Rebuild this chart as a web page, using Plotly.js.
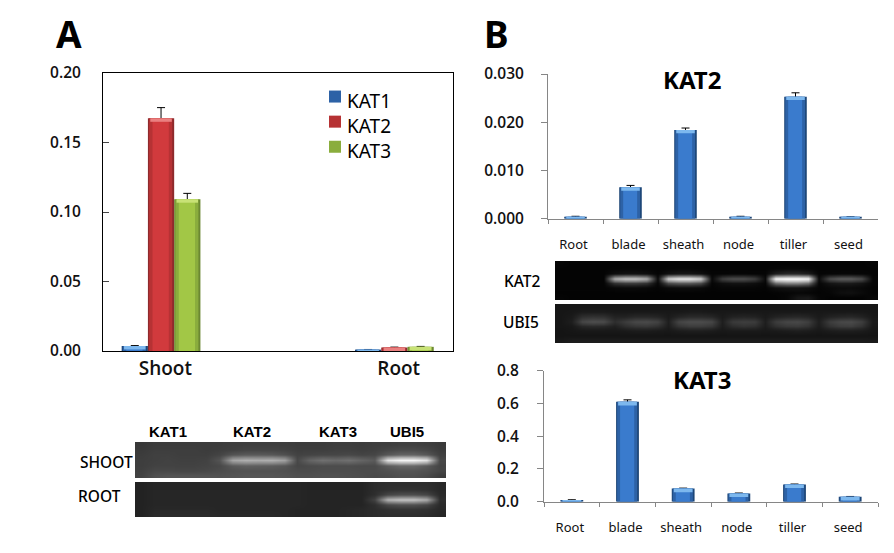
<!DOCTYPE html>
<html>
<head>
<meta charset="utf-8">
<script src="https://cdn.plot.ly/plotly-3.0.1.min.js"></script>
<style>html,body{margin:0;padding:0;background:#fff}#c{width:894px;height:553px}</style>
</head>
<body>
<div id="c"></div>
<script>
// ---------- data ----------
const tissuesA = ['Shoot', 'Root'];
const kat1A = [0.0036, 0.001];
const kat2A = [0.1674, 0.0025];
const kat3A = [0.1092, 0.003];
const kat1AErr = [0.0003, 0.0001];
const kat2AErr = [0.0077, 0.0003];
const kat3AErr = [0.0042, 0.0003];

const organs = ['Root', 'blade', 'sheath', 'node', 'tiller', 'seed'];
const kat2B = [0.0004, 0.0065, 0.0184, 0.0004, 0.0253, 0.0004];
const kat2BErr = [0.0001, 0.0004, 0.0004, 0.0001, 0.0008, 0];
const kat3B = [0.01, 0.61, 0.08, 0.05, 0.105, 0.03];
const kat3BErr = [0.002, 0.012, 0.003, 0.003, 0.003, 0.002];

// gel brightness (rows from top, 0-255)
const gelShoot = [
 [56,60,60,60,60,60,60,62,62,62,62,62,60,60,60,62,62,60,62,62,64,64,62,58],
 [58,62,62,62,62,60,62,64,68,68,68,66,62,62,62,64,64,62,64,70,74,74,70,60],
 [60,64,64,62,62,62,68,84,90,90,88,80,66,68,70,70,72,68,70,88,100,100,88,64],
 [62,64,66,64,64,66,84,165,175,172,175,160,72,100,112,106,112,100,90,225,245,245,225,72],
 [62,66,66,66,66,68,72,90,96,94,92,86,70,74,76,76,76,74,74,92,104,104,90,68],
 [64,72,72,70,70,72,76,80,82,82,82,80,76,76,78,78,78,76,76,80,84,84,80,70],
 [66,80,84,84,84,84,82,84,86,86,86,84,80,80,82,82,80,78,74,76,80,80,74,60]
];
const gelRoot = [
 [34,38,38,38,38,38,38,38,38,38,38,38,38,36,36,36,36,36,44,46,46,46,46,40],
 [34,38,38,38,38,38,38,38,38,38,38,38,38,36,36,36,36,36,44,48,50,50,48,40],
 [34,38,38,38,38,38,38,38,38,38,38,38,38,36,36,36,36,36,46,70,78,78,70,42],
 [34,38,38,38,38,38,38,38,38,38,38,38,38,36,36,36,36,36,66,180,195,195,170,46],
 [34,38,38,38,38,38,38,38,38,38,38,38,38,36,36,36,36,36,46,72,80,80,70,42],
 [34,40,40,40,40,40,38,38,38,38,38,38,36,36,36,36,38,40,44,48,50,50,48,40],
 [34,42,42,42,42,42,40,40,40,40,40,38,36,36,36,36,38,40,44,46,46,46,44,38]
];
const gelKat2 = [
 [6,4,4,4,4,4,4,4,4,4,4,4,4,4,4,4,4,4,4,4,4,4,4,4,4,4,4,4,4,6],
 [4,4,4,4,4,5,6,6,5,4,5,6,6,5,4,4,4,4,4,4,6,8,8,6,4,4,4,4,4,4],
 [4,4,4,4,4,14,18,18,14,5,16,22,22,16,5,5,6,6,5,5,30,40,40,30,5,6,7,7,6,4],
 [4,4,4,4,4,170,195,195,170,10,205,230,230,205,8,62,78,78,62,10,245,255,255,245,10,75,92,92,75,5],
 [4,4,4,4,4,50,60,60,50,6,75,88,88,75,5,14,18,18,14,6,110,130,130,110,6,20,26,26,20,5],
 [4,4,4,4,4,8,10,10,8,4,10,12,12,10,4,6,6,6,6,4,14,18,18,14,5,8,10,10,8,4],
 [3,3,3,3,3,3,3,3,3,3,3,3,3,3,3,3,3,3,3,3,4,6,8,6,4,6,14,16,10,4],
 [5,3,3,3,3,3,3,3,3,3,3,3,3,3,3,3,3,3,3,3,3,6,22,24,6,3,3,3,3,8]
];
const gelUbi = [
 [22,22,22,22,22,22,22,22,22,22,22,22,22,22,22,22,22,22,22,22,22,22,22,22,22,22,22,22,22,22],
 [22,23,26,26,26,24,24,24,24,24,24,24,26,26,24,24,24,24,24,24,24,24,24,24,24,24,24,24,24,22],
 [22,26,46,50,48,34,34,40,40,36,26,36,42,42,38,26,34,36,34,26,34,38,40,36,26,34,38,40,34,24],
 [22,30,70,78,75,46,60,72,74,66,30,68,76,76,70,30,58,62,60,30,60,70,72,62,30,60,72,74,62,26],
 [22,24,38,42,40,32,46,54,56,48,28,52,60,60,54,28,44,50,46,28,48,56,58,50,28,50,60,62,50,24],
 [20,22,24,24,24,24,26,28,28,26,24,28,30,30,28,24,26,26,26,24,26,28,30,28,24,28,30,30,28,22],
 [20,20,20,20,20,20,20,20,20,20,20,20,20,20,20,20,20,20,20,20,20,20,20,20,20,20,20,20,20,20],
 [24,28,28,28,28,28,28,28,28,28,28,28,28,28,28,28,28,28,28,28,28,28,28,28,28,28,28,28,28,26]
];

// ---------- style ----------
const W = 894, H = 553;
const sans = '"Noto Sans", "Open Sans", sans-serif';
const semi = '"Open Sans", "Noto Sans", sans-serif';
const arial = '"Liberation Sans", Arial, sans-serif';
const ink = '#111111';
const blueShades  = ['#1d4677', '#2d62a6', '#3a7bcd', '#7db8ee'];
const redShades   = ['#8e2a2c', '#b63234', '#d13a3d', '#ea8080'];
const greenShades = ['#6b8832', '#8aad3d', '#a2c746', '#c8e276'];
const bevel = [1, 0.88, 0.62];

const dx = (a, b) => [a / W, b / W];
const dy = (top, bottom) => [1 - bottom / H, 1 - top / H];

// the error bar goes first, so its lower cap hides under the bevelled bar drawn after it
function bars(name, xs, ys, errs, shades, ax, start, width, capFrac, legend) {
  const out = [{
    type: 'bar', name, x: xs, y: ys.map(() => 0), xaxis: 'x' + ax, yaxis: 'y' + ax,
    width: xs.map(() => width), offset: xs.map(() => start),
    base: ys.map(v => v - Math.min(v, capFrac) / 2), marker: {color: 'rgba(0,0,0,0)'},
    error_y: {type: 'data', symmetric: false, array: errs.map((e, i) => e + Math.min(ys[i], capFrac) / 2),
              arrayminus: errs.map(() => 0), color: '#000', thickness: 1, width: 4},
    showlegend: false, hoverinfo: 'skip'
  }];
  bevel.forEach((f, i) => {
    out.push({
      type: 'bar', name, x: xs, y: ys, xaxis: 'x' + ax, yaxis: 'y' + ax,
      width: xs.map(() => width * f),
      offset: xs.map(() => start + width * (1 - f) / 2 - (i === 0 ? 0 : width * 0.015)),
      marker: {color: shades[i], line: {width: 0}},
      showlegend: !!legend && i === 1, hoverinfo: 'skip'
    });
  });
  out.push({
    type: 'bar', name, x: xs, y: ys.map(v => Math.min(v, capFrac)),
    base: ys.map(v => v - Math.min(v, capFrac)),
    xaxis: 'x' + ax, yaxis: 'y' + ax,
    width: xs.map(() => width * 0.82), offset: xs.map(() => start + width * 0.09),
    marker: {color: shades[3], line: {width: 0}},
    showlegend: false, hoverinfo: 'skip'
  });
  return out;
}

function gel(z, ax) {
  return {type: 'heatmap', z, xaxis: 'x' + ax, yaxis: 'y' + ax, zmin: 0, zmax: 255, zsmooth: 'best',
          colorscale: [[0, '#000'], [1, '#fff']], showscale: false, hoverinfo: 'skip'};
}

const traces = [
  ...bars('KAT1', tissuesA, kat1A, kat1AErr, blueShades, '', -0.17, 0.1125, 0.0025, true),
  ...bars('KAT2', tissuesA, kat2A, kat2AErr, redShades, '', -0.0575, 0.1125, 0.0025, true),
  ...bars('KAT3', tissuesA, kat3A, kat3AErr, greenShades, '', 0.055, 0.1125, 0.0025, true),
  ...bars('KAT2', organs, kat2B, kat2BErr, blueShades, '2', -0.205, 0.41, 0.0007, false),
  ...bars('KAT3', organs, kat3B, kat3BErr, blueShades, '3', -0.205, 0.41, 0.022, false),
  gel(gelShoot, '4'), gel(gelRoot, '5'), gel(gelKat2, '6'), gel(gelUbi, '7')
];

function gelAxes(z, xd, yd) {
  return [
    {domain: xd, range: [-0.5, z[0].length - 0.5], visible: false, fixedrange: true},
    {domain: yd, range: [z.length - 0.5, -0.5], visible: false, fixedrange: true}
  ];
}

const sharedB = {
  showline: true, linecolor: '#868686', linewidth: 1, ticks: 'outside', tickcolor: '#868686',
  showgrid: false, zeroline: false
};
const xB = {
  ...sharedB, type: 'category', categoryorder: 'array', categoryarray: organs,
  range: [-0.5, 5.5], tickson: 'boundaries', ticklen: 4, ticklabelstandoff: 14, ticklabelshift: -2,
  tickfont: {family: sans, size: 13, color: ink}
};
const yB = {...sharedB, ticklen: 6, tickfont: {family: semi, size: 15.5, color: ink, weight: 600}};

const [g4x, g4y] = gelAxes(gelShoot, dx(135, 446), dy(442, 478));
const [g5x, g5y] = gelAxes(gelRoot, dx(135, 446), dy(482, 517));
const [g6x, g6y] = gelAxes(gelKat2, dx(555, 878), dy(261, 300));
const [g7x, g7y] = gelAxes(gelUbi, dx(555, 878), dy(304, 343));

function note(text, cx, cy, size, family, weight) {
  return {text, xref: 'paper', yref: 'paper', x: cx / W, y: 1 - cy / H, xanchor: 'center', yanchor: 'middle',
          showarrow: false, font: {family, size, color: '#000', weight}};
}

const layout = {
  width: W, height: H, margin: {l: 0, r: 0, t: 0, b: 0},
  paper_bgcolor: '#fff', plot_bgcolor: 'rgba(0,0,0,0)', barmode: 'overlay',
  font: {family: sans, color: ink},
  xaxis: {
    domain: dx(103, 453), type: 'category', categoryorder: 'array', categoryarray: tissuesA,
    range: [-0.25, 1.25], showline: true, mirror: true, linecolor: '#000', linewidth: 1,
    ticks: '', showgrid: false, zeroline: false, ticklabelstandoff: 0, ticklabelshift: 4,
    tickfont: {family: semi, size: 19, color: ink, weight: 600}
  },
  yaxis: {
    domain: dy(73, 351), range: [0, 0.2], tickvals: [0, 0.05, 0.1, 0.15, 0.2], ticktext: ['0.00', '0.05', '0.10', '0.15', '0.20'],
    showline: true, mirror: true, linecolor: '#000', linewidth: 1, ticks: 'inside', ticklen: 6, tickcolor: '#444',
    showgrid: false, zeroline: false, ticklabelstandoff: 18,
    tickfont: {family: semi, size: 15.5, color: ink, weight: 600}
  },
  xaxis2: {...xB, domain: dx(548, 878), anchor: 'y2'},
  yaxis2: {...yB, ticklabelstandoff: 14, domain: dy(74, 218.7), anchor: 'x2', range: [0, 0.03], tickvals: [0, 0.01, 0.02, 0.03], ticktext: ['0.000', '0.010', '0.020', '0.030']},
  xaxis3: {...xB, domain: dx(544, 878), anchor: 'y3'},
  yaxis3: {...yB, ticklabelstandoff: 15, domain: dy(370.7, 501.7), anchor: 'x3', range: [0, 0.8], tickvals: [0, 0.2, 0.4, 0.6, 0.8], ticktext: ['0.0', '0.2', '0.4', '0.6', '0.8']},
  xaxis4: {...g4x, anchor: 'y4'}, yaxis4: {...g4y, anchor: 'x4'},
  xaxis5: {...g5x, anchor: 'y5'}, yaxis5: {...g5y, anchor: 'x5'},
  xaxis6: {...g6x, anchor: 'y6'}, yaxis6: {...g6y, anchor: 'x6'},
  xaxis7: {...g7x, anchor: 'y7'}, yaxis7: {...g7y, anchor: 'x7'},
  showlegend: true,
  legend: {x: 315 / W, y: 1 - 79 / H, xanchor: 'left', yanchor: 'top', bgcolor: 'rgba(0,0,0,0)',
           font: {family: sans, size: 17, color: '#000'}, traceorder: 'normal', itemclick: false, itemdoubleclick: false},
  annotations: [
    note('A', 69, 33, 37, sans, 700),
    note('B', 496, 33, 37, sans, 700),
    note('KAT2', 692, 80, 24, sans, 700),
    note('KAT3', 702, 379, 24, sans, 700),
    note('KAT1', 168, 431, 15, arial, 700),
    note('KAT2', 252, 431, 15, arial, 700),
    note('KAT3', 338, 431, 15, arial, 700),
    note('UBI5', 407, 431, 15, arial, 700),
    note('SHOOT', 106, 462, 15.5, sans, 500),
    note('ROOT', 99, 496, 15.5, sans, 500),
    note('KAT2', 522, 281, 15.5, sans, 500),
    note('UBI5', 521, 322, 15.5, sans, 500)
  ]
};

Plotly.newPlot('c', traces, layout, {displayModeBar: false, staticPlot: true}).then(gd => {
  // the reference sets its larger legend labels close to the swatches, a little below their centre
  gd.querySelectorAll('.legend .legendtext').forEach(t => {
    t.style.fontSize = '19px';
    t.setAttribute('transform', 'translate(-8,5)');
  });
});
</script>
</body>
</html>
